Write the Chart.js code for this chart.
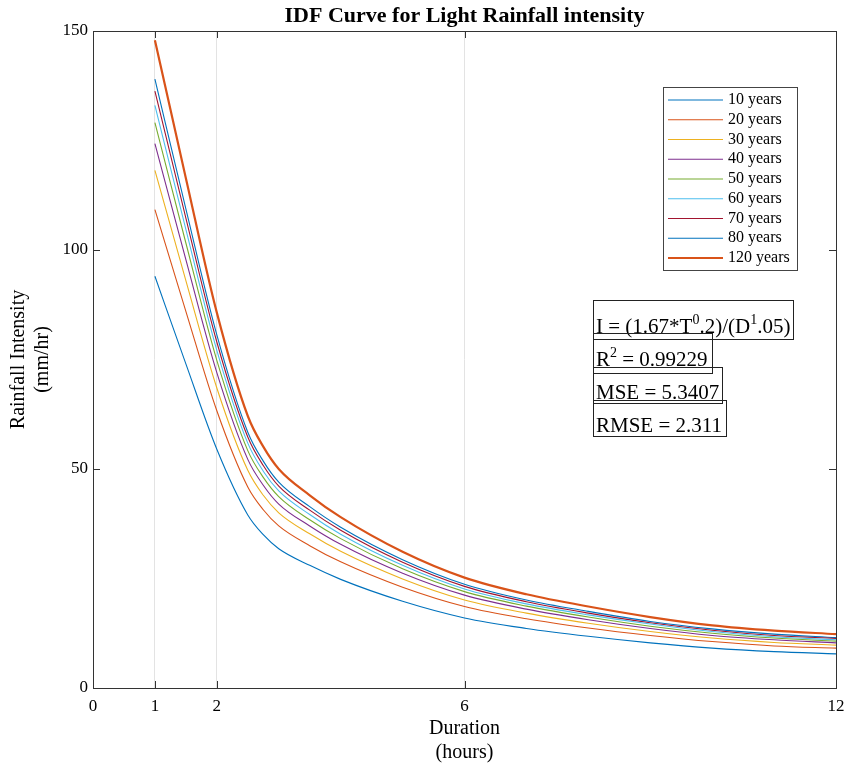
<!DOCTYPE html>
<html>
<head>
<meta charset="utf-8">
<script src="https://cdn.jsdelivr.net/npm/chart.js@4.4.1/dist/chart.umd.min.js"></script>
<style>
  html, body { margin: 0; padding: 0; background: #fff; }
</style>
</head>
<body>
<canvas id="idf-chart" width="846" height="769"></canvas>
<script>
;(function(){
  // durations (hours) and intensities (mm/hr)
  const durations = [1, 1.5, 2, 2.5, 2.75, 3, 3.5, 4, 5, 6, 7, 8, 9, 10, 11, 12]
  const rain10  = [94.0, 74.0, 54.5, 39.5, 35.0, 31.8, 28.0, 24.8, 19.8, 16.0, 13.6, 11.8, 10.3, 9.1, 8.3, 7.8]
  const rain20  = [109.2, 86.0, 63.3, 45.9, 40.7, 37.0, 32.5, 28.8, 23.0, 18.6, 15.8, 13.7, 12.0, 10.6, 9.6, 9.1]
  const rain30  = [118.2, 93.0, 68.5, 49.7, 44.0, 40.0, 35.2, 31.2, 24.9, 20.1, 17.1, 14.8, 12.9, 11.4, 10.4, 9.8]
  const rain40  = [124.3, 97.8, 72.0, 52.2, 46.3, 42.0, 37.0, 32.8, 26.2, 21.2, 18.0, 15.6, 13.6, 12.0, 11.0, 10.3]
  const rain50  = [129.1, 101.6, 74.8, 54.2, 48.1, 43.7, 38.4, 34.1, 27.2, 22.0, 18.7, 16.2, 14.1, 12.5, 11.4, 10.7]
  const rain60  = [133.0, 104.7, 77.1, 55.9, 49.5, 45.0, 39.6, 35.1, 28.0, 22.6, 19.2, 16.7, 14.6, 12.9, 11.7, 11.0]
  const rain70  = [136.3, 107.3, 79.0, 57.3, 50.8, 46.1, 40.6, 36.0, 28.7, 23.2, 19.7, 17.1, 14.9, 13.2, 12.0, 11.3]
  const rain80  = [139.0, 109.4, 80.6, 58.4, 51.8, 47.0, 41.4, 36.7, 29.3, 23.7, 20.1, 17.5, 15.2, 13.5, 12.3, 11.5]
  const rain120 = [147.9, 116.4, 85.7, 62.1, 55.1, 50.0, 44.0, 39.0, 31.1, 25.2, 21.4, 18.6, 16.2, 14.3, 13.1, 12.3]

  const seriesLabels = ['10 years', '20 years', '30 years', '40 years', '50 years',
    '60 years', '70 years', '80 years', '120 years']
  const seriesValues = [rain10, rain20, rain30, rain40, rain50, rain60, rain70, rain80, rain120]

  const xTicks = [0, 1, 2, 6, 12]
  const yTicks = [0, 50, 100, 150]

  // matlab default line colours
  const colors = ['#0072BD', '#D95319', '#EDB120', '#7E2F8E', '#77AC30',
    '#4DBEEE', '#A2142F', '#0072BD', '#D95319']

  const serif = "'Liberation Serif', 'Times New Roman', serif"
  Chart.defaults.font.family = serif
  Chart.defaults.color = '#000'

  const datasets = seriesValues.map((vals, i) => ({
    label: seriesLabels[i],
    data: vals.map((v, j) => ({ x: durations[j], y: v })),
    borderColor: colors[i],
    borderWidth: i === 8 ? 2.2 : 1.1,
    pointRadius: 0,
    fill: false,
    cubicInterpolationMode: 'monotone',
  }))

  // axes box with inward tick marks
  const frame = {
    id: 'frame',
    afterDatasetsDraw(chart) {
      const { ctx, chartArea: a, scales: { x, y } } = chart
      const len = 7
      ctx.save()
      ctx.strokeStyle = '#333'
      ctx.lineWidth = 1
      ctx.strokeRect(a.left + 0.5, a.top + 0.5, a.right - a.left, a.bottom - a.top)
      ctx.beginPath()
      xTicks.forEach(v => {
        const px = Math.round(x.getPixelForValue(v)) + 0.5
        ctx.moveTo(px, a.bottom); ctx.lineTo(px, a.bottom - len)
        ctx.moveTo(px, a.top); ctx.lineTo(px, a.top + len)
      })
      yTicks.forEach(v => {
        const py = Math.round(y.getPixelForValue(v)) + 0.5
        ctx.moveTo(a.left, py); ctx.lineTo(a.left + len, py)
        ctx.moveTo(a.right, py); ctx.lineTo(a.right - len, py)
      })
      ctx.stroke()
      ctx.restore()
    }
  }

  // legend box inside the plot (top right)
  const legendBox = {
    id: 'legendBox',
    afterDraw(chart) {
      const ctx = chart.ctx
      const L = 663, T = 87, W = 134, H = 183, row = 19.75, first = 100
      ctx.save()
      ctx.fillStyle = '#fff'
      ctx.fillRect(L, T, W, H)
      ctx.strokeStyle = '#444'
      ctx.lineWidth = 1
      ctx.strokeRect(L + 0.5, T + 0.5, W, H)
      ctx.font = '16px ' + serif
      ctx.textBaseline = 'middle'
      chart.data.datasets.forEach((ds, i) => {
        const yy = first + i * row
        ctx.strokeStyle = ds.borderColor
        ctx.lineWidth = ds.borderWidth
        ctx.beginPath(); ctx.moveTo(668, yy); ctx.lineTo(723, yy); ctx.stroke()
        ctx.fillStyle = '#000'
        ctx.fillText(ds.label, 728, yy)
      })
      ctx.restore()
    }
  }

  // fit statistics text boxes
  const notes = [
    { box: [593, 300, 793, 339], base: 333, parts: [['I = (1.67*T'], ['0', 1], ['.2)/(D'], ['1', 1], ['.05)']] },
    { box: [593, 333, 712, 373], base: 366, parts: [['R'], ['2', 1], [' = 0.99229']] },
    { box: [593, 367, 722, 403], base: 399, parts: [['MSE = 5.3407']] },
    { box: [593, 400, 726, 436], base: 432, parts: [['RMSE = 2.311']] },
  ]
  const noteBoxes = {
    id: 'noteBoxes',
    afterDraw(chart) {
      const ctx = chart.ctx
      ctx.save()
      ctx.strokeStyle = '#222'
      ctx.lineWidth = 1
      ctx.fillStyle = '#000'
      ctx.textBaseline = 'alphabetic'
      notes.forEach(n => {
        const [l, t, r, b] = n.box
        ctx.strokeRect(l + 0.5, t + 0.5, r - l, b - t)
        let xx = 596
        n.parts.forEach(([txt, sup]) => {
          ctx.font = (sup ? '14px ' : '21px ') + serif
          ctx.fillText(txt, xx, sup ? n.base - 9 : n.base)
          xx += ctx.measureText(txt).width
        })
      })
      ctx.restore()
    }
  }

  const cfg = {
    type: 'line',
    data: { datasets },
    options: {
      responsive: false,
      animation: false,
      layout: { padding: { top: 0, right: 10, left: 0, bottom: 0 } },
      plugins: {
        legend: { display: false },
        tooltip: { enabled: false },
        title: {
          display: true,
          text: 'IDF Curve for Light Rainfall intensity',
          fullSize: false,
          font: { size: 22, weight: 'bold', family: serif },
          color: '#000',
          padding: { top: 3, bottom: 1.6 },
        },
      },
      scales: {
        x: {
          type: 'linear',
          min: 0,
          max: 12,
          afterBuildTicks: s => { s.ticks = xTicks.map(v => ({ value: v })) },
          afterFit: s => { s.height = 81; s.paddingLeft = 0; s.paddingRight = 0 },
          ticks: { autoSkip: false, maxRotation: 0, padding: 8, font: { size: 17 }, color: '#000' },
          grid: {
            drawTicks: false,
            color: c => (c.tick && (c.tick.value === 0 || c.tick.value === 12)) ? 'rgba(0,0,0,0)' : '#e3e3e3',
          },
          border: { display: false },
          title: {
            display: true,
            text: ['Duration', '(hours)'],
            font: { size: 20 },
            color: '#000',
            padding: { top: 0, bottom: 4 },
          },
        },
        y: {
          min: 0,
          max: 150,
          afterFit: s => { s.width = 93 },
          ticks: { stepSize: 50, padding: 5, font: { size: 17 }, color: '#000' },
          grid: { display: false, drawTicks: false },
          border: { display: false },
          title: {
            display: true,
            text: ['Rainfall Intensity', '(mm/hr)'],
            font: { size: 20 },
            color: '#000',
            padding: { top: 7, bottom: 0 },
          },
        },
      },
    },
    plugins: [frame, legendBox, noteBoxes],
  }

  new Chart(document.getElementById('idf-chart'), cfg)
})()
</script>
</body>
</html>
